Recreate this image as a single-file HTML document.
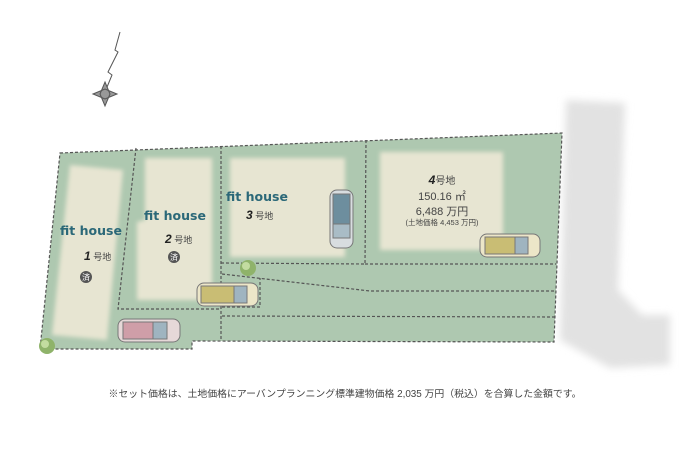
<!DOCTYPE html>
<html><head><meta charset="utf-8"><style>
html,body{margin:0;padding:0;background:#fff;width:690px;height:460px;overflow:hidden}
svg{display:block}
.fh{font-family:"Comic Sans MS","DejaVu Sans",sans-serif;font-weight:bold;fill:#2b6878;font-size:12.5px}
.t{font-family:"Liberation Sans","Noto Sans CJK JP",sans-serif;fill:#444}
</style></head><body>
<svg width="690" height="460" viewBox="0 0 690 460">
<defs>
<filter id="b" x="-20%" y="-20%" width="140%" height="140%"><feGaussianBlur stdDeviation="4"/></filter>
<filter id="b2" x="-10%" y="-10%" width="120%" height="120%"><feGaussianBlur stdDeviation="2"/></filter>
</defs>
<path d="M566,100 L625,103 L618,290 L642,315 L670,315 L670,365 L610,368 L560,340 Z" fill="#e2e2e2" filter="url(#b)"/>
<g stroke="#555" fill="none" stroke-width="1">
<path d="M120,32 L115,50 L118,52 L108,72 L112,75 L105,92"/>
<path d="M105,82 L110,94 L105,106 L100,94 Z M93,94 L105,89 L117,94 L105,99 Z" fill="#999"/>
</g>
<path d="M60,153 L562,133 L554,342 L192,341 L192,349 L40,349 Z" fill="#aec8b0"/>
<g fill="#e7e5d2" filter="url(#b2)">
<path d="M70,165 L123,170 L107,340 L52,335 Z"/>
<path d="M145,158 L212,158 L212,300 L137,300 L137,222 L145,220 Z"/>
<rect x="230" y="158" width="115" height="99"/>
<rect x="380" y="152" width="123" height="98"/>
</g>
<g stroke="#555" stroke-width="1.2" stroke-dasharray="3,2" fill="none">
<path d="M60,153 L562,133 L554,342 L192,341 L192,349 L40,349 Z"/>
<path d="M136,148 L118,309 L221,309"/>
<path d="M221,146 L221,340"/>
<path d="M221,263 L365,264 L366,140"/>
<path d="M365,264 L556,264"/>
<path d="M222,274 L370,291 L556,291"/>
<path d="M222,307 L260,307 L260,278"/>
<path d="M222,316 L555,317"/>
</g>
<g stroke="#777" stroke-width="1">
<rect x="118" y="319" width="62" height="23" rx="7" fill="#e6d8d8"/>
<rect x="123" y="322" width="30" height="17" fill="#cf9ea8"/>
<rect x="153" y="322" width="14" height="17" fill="#9fb4c0"/>
<rect x="197" y="283" width="61" height="23" rx="7" fill="#ece6c8"/>
<rect x="201" y="286" width="33" height="17" fill="#c9bd74"/>
<rect x="234" y="286" width="13" height="17" fill="#9fb4c0"/>
<rect x="330" y="190" width="23" height="58" rx="7" fill="#d8dde0"/>
<rect x="333" y="194" width="17" height="30" fill="#6d8e9e"/>
<rect x="333" y="224" width="17" height="14" fill="#a9bcc6"/>
<rect x="480" y="234" width="60" height="23" rx="7" fill="#ece6c8"/>
<rect x="485" y="237" width="30" height="17" fill="#c9bd74"/>
<rect x="515" y="237" width="13" height="17" fill="#9fb4c0"/>
</g>
<circle cx="248" cy="268" r="8" fill="#8fb36a"/><circle cx="246" cy="266" r="4" fill="#c3dca0"/>
<circle cx="47" cy="346" r="8" fill="#8fb36a"/><circle cx="45" cy="344" r="4" fill="#c3dca0"/>
<text class="fh" x="91" y="235" text-anchor="middle">fit house</text>
<text class="fh" x="175" y="220" text-anchor="middle">fit house</text>
<text class="fh" x="257" y="201" text-anchor="middle">fit house</text>
<g class="t" font-size="9">
<text x="84" y="260"><tspan font-size="12" font-weight="bold" font-style="italic" fill="#222">1</tspan> 号地</text>
<text x="165" y="243"><tspan font-size="12" font-weight="bold" font-style="italic" fill="#222">2</tspan> 号地</text>
<text x="246" y="219"><tspan font-size="12" font-weight="bold" font-style="italic" fill="#222">3</tspan> 号地</text>
</g>
<circle cx="86" cy="277" r="6" fill="#555"/><text x="86" y="280" font-size="8" text-anchor="middle" class="t" style="fill:#fff">済</text>
<circle cx="174" cy="257" r="6" fill="#555"/><text x="174" y="260" font-size="8" text-anchor="middle" class="t" style="fill:#fff">済</text>
<g class="t" text-anchor="middle">
<text x="442" y="184" font-size="10"><tspan font-size="12" font-weight="bold" font-style="italic" fill="#222">4</tspan>号地</text>
<text x="442" y="200" font-size="11">150.16 ㎡</text>
<text x="442" y="215" font-size="11">6,488 万円</text>
<text x="442" y="225" font-size="7.5">(土地価格 4,453 万円)</text>
</g>
<text class="t" x="345" y="397" font-size="9.9" text-anchor="middle">※セット価格は、土地価格にアーバンプランニング標準建物価格 2,035 万円（税込）を合算した金額です。</text>
</svg>
</body></html>
